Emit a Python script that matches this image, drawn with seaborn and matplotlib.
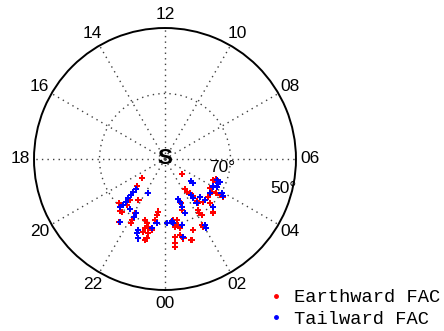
import numpy as np
import pandas as pd
import seaborn as sns
import matplotlib.pyplot as plt
from matplotlib.lines import Line2D

earth_mlt = [20.7, 20.9, 21.8, 21.35, 21.4, 22.1, 22.14, 22.8, 23.5, 23.44, 23.38, 22.94,
             23.08, 22.93, 23.29, 23.15, 23.13, 22.89, 23.08, 21.27, 21.3, 20.94, 22.07, 21.6,
             3.27, 2.23, 2.24, 2.41, 2.49, 2.48, 2.49, 2.79, 3.23, 4.43, 4.55, 4.43,
             3.79, 3.67, 3.74, 3.79, 3.81, 1.33, 1.21, 3.03, 2.8, 2.2, 2.15, 2.21,
             1.94, 1.97, 0.49, 0.56, 0.76, 0.81, 0.75, 0.81, 0.87, 0.49, 0.45, 0.43,
             1.45, 1.21, 0.72, 0.52]
earth_lat = [80.9, 78.1, 75.1, 71.7, 69.2, 68.8, 67.8, 70.4, 73.8, 72.7, 71.1, 69.6,
             68.7, 68.0, 68.0, 66.7, 65.1, 66.8, 64.5, 69.1, 73.5, 70.6, 71.1, 66.3,
             83.0, 78.9, 78.0, 77.1, 75.8, 74.0, 73.2, 72.5, 72.4, 73.9, 73.2, 72.6,
             73.6, 72.6, 71.2, 69.9, 68.8, 75.6, 73.6, 70.7, 68.0, 71.4, 70.4, 69.5,
             66.9, 66.2, 70.2, 69.1, 69.4, 68.4, 66.3, 65.7, 65.1, 66.1, 64.1, 62.9,
             66.7, 64.0, 71.0, 71.2]

tail_mlt = [21.07, 21.06, 21.1, 21.13, 21.16, 21.19, 21.13, 22.21, 21.68, 21.62, 22.1, 22.13,
            22.63, 22.61, 22.76, 23.5, 0.1, 23.29,
            3.32, 3.29, 2.37, 2.39, 2.86, 2.95, 3.51, 4.54, 4.37, 4.12, 4.0, 3.92,
            3.84, 1.22, 1.29, 1.29, 3.0, 2.08, 2.04, 0.41, 0.49, 0.95, 0.88, 1.35,
            4.51, 2.37]
tail_lat = [77.1, 76.1, 74.9, 73.6, 72.3, 71.0, 70.0, 78.3, 71.3, 66.4, 71.2, 70.0,
            66.8, 65.7, 64.4, 70.3, 70.4, 68.6,
            79.7, 78.9, 76.5, 75.2, 74.3, 72.5, 72.7, 72.8, 72.1, 72.1, 73.2, 69.8,
            68.9, 77.0, 76.2, 74.6, 69.1, 66.4, 65.4, 70.8, 70.2, 69.2, 65.6, 72.3,
            71.8, 73.4]

mlt_labels = ['00', '02', '04', '06', '08', '10', '12', '14', '16', '18', '20', '22']
ring_labels = ['70°', '50°']

df = pd.DataFrame({
    'mlt': earth_mlt + tail_mlt,
    'lat': earth_lat + tail_lat,
    'type': ['Earthward FAC'] * len(earth_mlt) + ['Tailward FAC'] * len(tail_mlt),
})
df['theta'] = np.deg2rad(df['mlt'] * 15)
df['colat'] = 90 - df['lat']

plt.rcParams['font.family'] = ['Liberation Sans', 'DejaVu Sans']

fig = plt.figure(figsize=(4.44, 3.31), dpi=100)
ax = fig.add_axes([0.0766, 0.1239, 0.590, 0.7915], projection='polar')
ax.set_theta_zero_location('S')
ax.set_theta_direction(1)

colors = {'Earthward FAC': 'red', 'Tailward FAC': 'blue'}
sns.scatterplot(data=df, x='theta', y='colat', hue='type', palette=colors,
                marker='P', s=20, linewidth=0, legend=False, ax=ax, zorder=3)

ax.set_ylim(0, 40)
ax.set_yticks([20])
ax.set_yticklabels([])
ax.set_xticks(np.deg2rad(np.arange(0, 360, 30)))
ax.set_xticklabels([])
ax.set_xlabel('')
ax.set_ylabel('')
ax.grid(True, linestyle=(0, (1, 3)), color='0.25', linewidth=1.0)
ax.spines['polar'].set_color('black')
ax.spines['polar'].set_linewidth(1.4)

for i, lab in enumerate(mlt_labels):
    ax.text(np.deg2rad(i * 30), 44.2, lab, ha='center', va='center',
            fontsize=12.5, clip_on=False)

ax.text(np.deg2rad(82), 17.7, ring_labels[0], ha='center', va='center', fontsize=12.5)
ax.text(np.deg2rad(76), 37.4, ring_labels[1], ha='center', va='center', fontsize=12.5)
ax.text(0, 0, 'S', ha='center', va='center', fontsize=16, fontweight='bold', zorder=4)

handles = [Line2D([], [], marker='o', linestyle='none', color=c, markersize=2.5)
           for c in colors.values()]
fig.legend(handles, list(colors.keys()), loc='upper left',
           bbox_to_anchor=(0.600, 0.127), frameon=False, borderpad=0,
           borderaxespad=0, handlelength=1.0, handletextpad=0.45, labelspacing=0.25,
           prop={'family': 'Liberation Mono', 'size': 13.5})

fig.savefig('out.png', dpi=100)
